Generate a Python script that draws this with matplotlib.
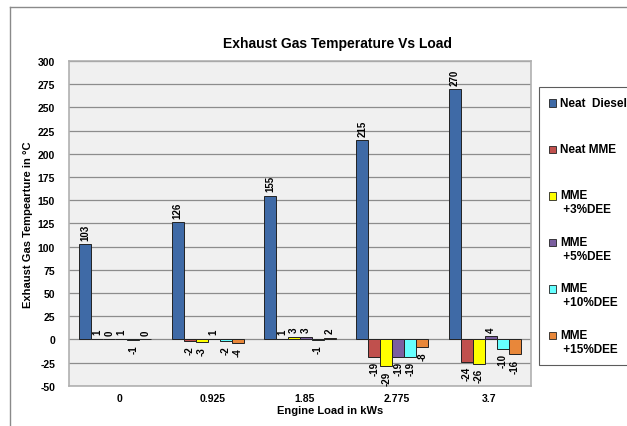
import numpy as np
import matplotlib
matplotlib.use("Agg")
import matplotlib.pyplot as plt
from matplotlib.lines import Line2D
from matplotlib.patches import Rectangle
from matplotlib.container import BarContainer
from matplotlib.legend_handler import HandlerPatch, update_from_first_child

plt.rcParams['font.family'] = ['Liberation Sans', 'DejaVu Sans']

# data
loads = ['0', '0.925', '1.85', '2.775', '3.7']
series = ['Neat  Diesel', 'Neat MME', 'MME\n +3%DEE', 'MME\n +5%DEE', 'MME\n +10%DEE', 'MME\n +15%DEE']
neat_diesel = [103, 126, 155, 215, 270]
neat_mme = [1, -2, 1, -19, -24]
mme_3 = [0, -3, 3, -29, -26]
mme_5 = [1, 1, 3, -19, 4]
mme_10 = [-1, -2, -1, -19, -10]
mme_15 = [0, -4, 2, -8, -16]
values = [neat_diesel, neat_mme, mme_3, mme_5, mme_10, mme_15]
colors = ['#3f6aa6', '#c0504d', '#ffff00', '#7b5fa0', '#66ffff', '#e8873a']

fig = plt.figure(figsize=(6.27, 4.27), dpi=100)
ax = fig.add_axes([0.110, 0.094, 0.737, 0.761])
ax.set_facecolor('#f0f0f0')

x = np.arange(len(loads))
w = 0.13
for i, (vals, c, name) in enumerate(zip(values, colors, series)):
    pos = x - 2.5 * w + i * w
    # every legend label gets two lines so the entries sit evenly
    lab = name if '\n' in name else name + '\n '
    ax.bar(pos, vals, w, color=c, edgecolor='#222222', linewidth=0.7, label=lab, zorder=3)
    for px, v in zip(pos, vals):
        if v >= 0:
            ax.annotate(str(v), (px, v), xytext=(0, 3), textcoords='offset points',
                        rotation=90, ha='center', va='bottom', fontsize=7, fontweight='bold')
        else:
            ax.annotate(str(v), (px, v), xytext=(0, -3), textcoords='offset points',
                        rotation=90, ha='center', va='top', fontsize=7, fontweight='bold')

ax.set_xlim(-0.5, len(loads) - 0.5)
ax.set_ylim(-50, 300)
ax.set_yticks(np.arange(-50, 301, 25))
ax.set_yticklabels([str(t) for t in range(-50, 301, 25)], fontsize=7.5, fontweight='bold')
ax.set_xticks(x + 0.05)
ax.set_xticklabels(loads, fontsize=7.5, fontweight='bold')
ax.tick_params(axis='x', length=0, pad=5)
ax.tick_params(axis='y', length=0, pad=10)
ax.grid(axis='y', color='#8c8c8c', linewidth=0.9, zorder=1)
for s in ax.spines.values():
    s.set_color('#b0b0b0')
    s.set_linewidth(1.2)

ax.set_ylabel('Exhaust Gas Tempearture in °C', fontsize=8, fontweight='bold')
ax.yaxis.set_label_coords(-0.078, 0.5)
ax.set_xlabel('Engine Load in kWs', fontsize=8, fontweight='bold')
ax.xaxis.set_label_coords(0.565, -0.06)

fig.text(0.539, 0.897, 'Exhaust Gas Temperature Vs Load', ha='center', va='center',
         fontsize=10, fontweight='bold')


def top_patch(legend, orig_handle, xdescent, ydescent, width, height, fontsize):
    # put the colour key beside the first line of the label
    return Rectangle((-xdescent, -ydescent + fontsize * 0.58), width, height)


leg = fig.legend(loc='upper left', bbox_to_anchor=(0.859, 0.795),
                 prop={'size': 8.5, 'weight': 'bold'},
                 frameon=True, fancybox=False, edgecolor='#333333', labelspacing=1.75,
                 handlelength=0.65, handleheight=0.6, handletextpad=0.3, borderpad=0.85,
                 borderaxespad=0,
                 handler_map={BarContainer: HandlerPatch(patch_func=top_patch,
                                                         update_func=update_from_first_child)})
leg.get_frame().set_linewidth(0.8)
for h in leg.legend_handles:
    h.set_edgecolor('#222222')
    h.set_linewidth(0.6)

# outer chart frame
fig.add_artist(Line2D([0.016, 0.016], [0, 0.981], color='#8a8a8a', linewidth=1))
fig.add_artist(Line2D([0.016, 1.0], [0.981, 0.981], color='#8a8a8a', linewidth=1))

fig.savefig('out.png', dpi=100)
